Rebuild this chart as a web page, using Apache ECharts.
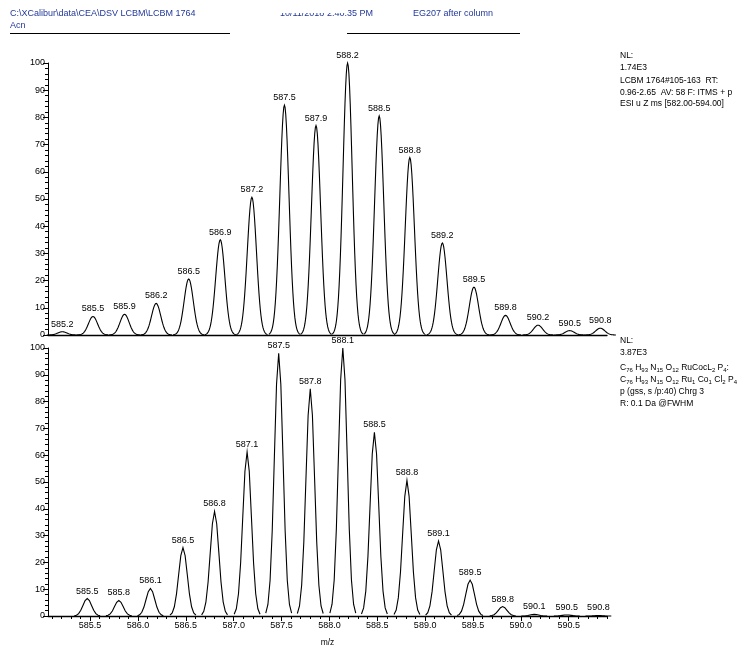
<!DOCTYPE html>
<html>
<head>
<meta charset="utf-8">
<script src="https://cdn.jsdelivr.net/npm/echarts@6/dist/echarts.min.js"></script>
<style>
  html, body { margin: 0; padding: 0; background: #fff; }
  #chart { width: 745px; height: 648px; }
</style>
</head>
<body>
<div id="chart"></div>
<script>
// Measured ITMS spectrum: peak m/z and relative abundance (%)
const measuredMz = [585.21, 585.53, 585.86, 586.19, 586.53, 586.86, 587.19, 587.53, 587.86,
                    588.19, 588.52, 588.84, 589.18, 589.51, 589.84, 590.18, 590.51, 590.83];
const measuredAbundance = [1.2, 6.8, 7.6, 11.6, 20.6, 35.0, 50.6, 84.5, 77.0,
                           100, 80.5, 65.2, 33.8, 17.6, 7.2, 3.6, 1.6, 2.5];

// Simulated isotope pattern, charge 3
const theoMz = [585.47, 585.80, 586.13, 586.47, 586.80, 587.14, 587.47, 587.80, 588.14,
                588.47, 588.81, 589.14, 589.47, 589.81, 590.14, 590.48, 590.81];
const theoAbundance = [6.5, 5.8, 10.3, 25.5, 39.0, 61.2, 98.0, 84.8, 100,
                       68.5, 50.6, 28.0, 13.4, 3.5, 0.6, 0.4, 0.2];

// Axis ticks
const xTickLabels = [585.5, 586.0, 586.5, 587.0, 587.5, 588.0, 588.5, 589.0, 589.5, 590.0, 590.5];
const yTickLabels = [0, 10, 20, 30, 40, 50, 60, 70, 80, 90, 100];
const xMin = 585.06, xMax = 590.90;

const FONT = '"Liberation Sans", Arial, sans-serif';
const minorX = [];
for (let v = Math.ceil(xMin * 10); v <= Math.floor(xMax * 10); v++) minorX.push(v / 10);

// Draws one peak as a bell-shaped profile plus its m/z label
function peakShape(sigma, span, stepsPerSide) {
  return function (params, api) {
    const mz = api.value(0), h = api.value(1);
    const pts = [];
    for (let i = -stepsPerSide; i <= stepsPerSide; i++) {
      const t = (i / stepsPerSide) * span;
      pts.push(api.coord([mz + t * sigma, h * Math.exp(-t * t / 2)]));
    }
    const top = api.coord([mz, h]);
    return {
      type: 'group',
      children: [
        { type: 'polyline', shape: { points: pts },
          style: { stroke: '#000', lineWidth: 1.1, fill: null } },
        { type: 'text', x: top[0], y: top[1] - 3,
          style: { text: mz.toFixed(1), fontSize: 9, fontFamily: FONT, fill: '#000',
                   align: 'center', verticalAlign: 'bottom' } }
      ]
    };
  };
}

const yAxisCommon = {
  type: 'value', min: 0, max: 100, interval: 10,
  axisLine: { show: true, lineStyle: { color: '#000', width: 1 } },
  axisTick: { show: true, length: 5, lineStyle: { color: '#000' } },
  minorTick: { show: true, splitNumber: 5, length: 3, lineStyle: { color: '#000' } },
  axisLabel: { fontSize: 9, fontFamily: FONT, color: '#000', margin: 3,
               formatter: v => yTickLabels.includes(v) ? String(v) : '' },
  splitLine: { show: false }
};

const baseRich = {
  n: { fontSize: 8.5, fontFamily: FONT, fill: '#000', lineHeight: 11, verticalAlign: 'middle' },
  s: { fontSize: 6, fontFamily: FONT, fill: '#000', lineHeight: 11, verticalAlign: 'bottom' }
};

function txt(x, y, text, opts) {
  return { type: 'text', x: x, y: y, silent: true,
    style: Object.assign({ text: text, fontSize: 8.5, fontFamily: FONT, fill: '#000',
      verticalAlign: 'middle' }, opts || {}) };
}

const headerBlue = '#23399a';

const option = {
  animation: false,
  backgroundColor: '#fff',
  grid: [
    { left: 48, top: 63, width: 559, height: 272 },
    { left: 48, top: 348, width: 559, height: 270 }
  ],
  xAxis: [
    { type: 'value', gridIndex: 0, min: xMin, max: xMax, position: 'bottom',
      axisLine: { show: true, lineStyle: { color: '#000', width: 1.3 } },
      axisTick: { show: false }, axisLabel: { show: false }, splitLine: { show: false } },
    { type: 'value', gridIndex: 1, min: xMin, max: xMax, position: 'bottom',
      name: 'm/z', nameLocation: 'middle', nameGap: 22,
      nameTextStyle: { fontSize: 8.5, fontFamily: FONT, color: '#000' },
      axisLine: { show: true, lineStyle: { color: '#000', width: 1.3 } },
      axisTick: { show: true, length: 5, customValues: xTickLabels, lineStyle: { color: '#000' } },
      axisLabel: { fontSize: 9, fontFamily: FONT, color: '#000', margin: 5,
                   customValues: xTickLabels, formatter: v => v.toFixed(1) },
      splitLine: { show: false } },
    { type: 'value', gridIndex: 1, min: xMin, max: xMax, position: 'bottom', offset: 0,
      axisLine: { show: false },
      axisTick: { show: true, length: 3, customValues: minorX, lineStyle: { color: '#000' } },
      axisLabel: { show: false }, splitLine: { show: false } }
  ],
  yAxis: [
    Object.assign({ gridIndex: 0 }, yAxisCommon),
    Object.assign({ gridIndex: 1 }, yAxisCommon)
  ],
  series: [
    { type: 'custom', name: 'measured', xAxisIndex: 0, yAxisIndex: 0,
      renderItem: peakShape(0.048, 3.4, 24),
      data: measuredMz.map((m, i) => [m, measuredAbundance[i]]) },
    { type: 'custom', name: 'theoretical', xAxisIndex: 1, yAxisIndex: 1,
      renderItem: peakShape(0.045, 3, 6),
      data: theoMz.map((m, i) => [m, theoAbundance[i]]) }
  ],
  graphic: [
    // file header
    txt(10, 14, 'C:\\XCalibur\\data\\CEA\\DSV LCBM\\LCBM 1764', { fill: headerBlue, fontSize: 9 }),
    txt(10, 26, 'Acn', { fill: headerBlue, fontSize: 9 }),
    txt(280, 14, '10/11/2018 2:40:35 PM', { fill: headerBlue, fontSize: 9 }),
    { type: 'rect', shape: { x: 278, y: 7, width: 70, height: 6 }, style: { fill: '#fff' }, silent: true },
    txt(413, 14, 'EG207 after column', { fill: headerBlue, fontSize: 9 }),
    { type: 'line', shape: { x1: 10, y1: 33.5, x2: 230, y2: 33.5 }, style: { stroke: '#000', lineWidth: 1 } },
    { type: 'line', shape: { x1: 347, y1: 33.5, x2: 520, y2: 33.5 }, style: { stroke: '#000', lineWidth: 1 } },
    // measured scan notes
    txt(620, 56, 'NL:'),
    txt(620, 68, '1.74E3'),
    txt(620, 81, 'LCBM 1764#105-163  RT:'),
    txt(620, 93, '0.96-2.65  AV: 58 F: ITMS + p'),
    txt(620, 104, 'ESI u Z ms [582.00-594.00]'),
    // simulation notes
    txt(620, 341, 'NL:'),
    txt(620, 353, '3.87E3'),
    { type: 'text', x: 620, y: 368, silent: true,
      style: { text: '{n|C}{s|76} {n|H}{s|93} {n|N}{s|15} {n|O}{s|12} {n|RuCocL}{s|2} {n|P}{s|4}{n|:}',
               rich: baseRich, fontSize: 8.5, fontFamily: FONT, verticalAlign: 'middle' } },
    { type: 'text', x: 620, y: 380, silent: true,
      style: { text: '{n|C}{s|76} {n|H}{s|93} {n|N}{s|15} {n|O}{s|12} {n|Ru}{s|1} {n|Co}{s|1} {n|Cl}{s|2} {n|P}{s|4}',
               rich: baseRich, fontSize: 8.5, fontFamily: FONT, verticalAlign: 'middle' } },
    txt(620, 392, 'p (gss, s /p:40) Chrg 3'),
    txt(620, 404, 'R: 0.1 Da @FWHM')
  ]
};

const chart = echarts.init(document.getElementById('chart'), null, { renderer: 'canvas' });
chart.setOption(option);
</script>
</body>
</html>
